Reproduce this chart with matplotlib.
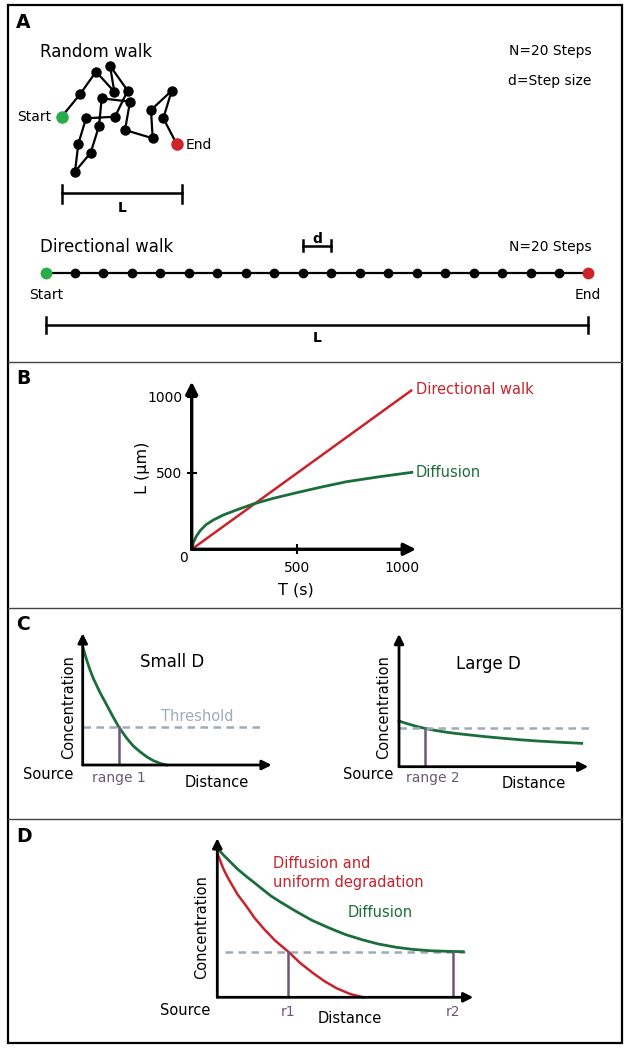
import matplotlib.pyplot as plt
from matplotlib.patches import Rectangle

W, H = 629, 1049

# --- data ---
# A: random walk path (sketch units = pixels)
rw_x = [61.7, 80, 96, 114.3, 110, 127.7, 115, 86, 78.3, 75, 90.7, 99, 101.7,
        130, 125, 152.7, 151, 171.7, 163.3, 176.7]
rw_y = [116.7, 94.3, 71.7, 91.7, 65.7, 90.7, 116.7, 118.3, 144, 171.7, 152.7,
        126, 98.3, 101.7, 130, 138.3, 110, 90.7, 118.3, 144]
# A: directional walk, step index
dw_steps = [0, 1, 2, 3, 4, 5, 6, 7, 8, 9, 10, 11, 12, 13, 14, 15, 16, 17, 18, 19]

# B: distance travelled vs time
dir_T = [0, 1045]
dir_L = [0, 1040]
diff_T = [0, 8, 21, 40, 68, 103, 151, 214, 293, 389, 500, 611, 738, 897, 1048]
diff_L = [0, 44, 83, 122, 161, 192, 225, 258, 297, 334, 371, 406, 443, 476, 504]

# C: concentration profiles (arbitrary units)
smallD_x = [0.03, 0.21, 0.39, 0.56, 0.92, 1.27, 1.62, 1.92, 2.33, 2.68, 3.03, 3.38, 3.74, 4.09, 4.44]
smallD_y = [0.886, 0.797, 0.721, 0.658, 0.549, 0.456, 0.362, 0.286, 0.203, 0.144, 0.101, 0.063, 0.033, 0.013, 0.0]
largeD_x = [0, 0.35, 0.7, 1.0, 1.37, 1.9, 2.5, 3.1, 3.75, 4.6, 5.51, 6.4, 7.27, 8.4, 9.65]
largeD_y = [0.344, 0.328, 0.313, 0.301, 0.289, 0.274, 0.26, 0.249, 0.239, 0.226, 0.214, 0.203, 0.194, 0.185, 0.176]
thr_small, range1 = 0.286, 1.92
thr_large, range2 = 0.289, 1.37

# D: diffusion vs diffusion + degradation
diffD_x = [0, 0.25, 0.5, 0.8, 1.15, 1.5, 1.8, 2.1, 2.45, 2.8, 3.1, 3.7, 4.4, 5.0, 5.7,
           6.3, 7.01, 7.6, 8.31, 9.0, 9.61]
diffD_y = [0.937, 0.893, 0.853, 0.805, 0.758, 0.714, 0.675, 0.637, 0.601, 0.567, 0.538,
           0.484, 0.434, 0.395, 0.36, 0.335, 0.314, 0.302, 0.293, 0.289, 0.287]
degr_x = [0, 0.12, 0.23, 0.36, 0.5, 0.8, 1.15, 1.45, 1.8, 2.25, 2.77, 3.25, 3.75, 4.2,
          4.66, 5.2, 5.7]
degr_y = [0.906, 0.857, 0.811, 0.768, 0.727, 0.645, 0.57, 0.5, 0.434, 0.358, 0.287,
          0.214, 0.151, 0.1, 0.057, 0.02, 0.0]
thr_D, r1, r2 = 0.287, 2.77, 9.2

# --- colours ---
RED = '#C8232C'
GREEN = '#1B6E3C'
DOT_GREEN = '#2BAA4A'
DOT_RED = '#D0242B'
THR = '#9EABB9'
PURPLE = '#6D5777'

fig = plt.figure(figsize=(W / 100, H / 100), dpi=100)

# overlay in pixel coordinates for frame, labels and panel A
ax0 = fig.add_axes([0, 0, 1, 1])
ax0.set_xlim(0, W)
ax0.set_ylim(H, 0)
ax0.axis('off')


def add_ax(left, top, right, bottom):
    a = fig.add_axes([left / W, 1 - bottom / H, (right - left) / W, (bottom - top) / H])
    a.set_facecolor('none')
    return a


def arrow_axes(ax, xmax, ymax, lw=2.2, ms=16):
    kw = dict(arrowstyle='-|>', lw=lw, color='k', shrinkA=0, shrinkB=0, mutation_scale=ms)
    ax.annotate('', xy=(xmax, 0), xytext=(0, 0), arrowprops=kw, annotation_clip=False)
    ax.annotate('', xy=(0, ymax), xytext=(0, 0), arrowprops=kw, annotation_clip=False)


# frame and panel dividers
ax0.add_patch(Rectangle((8, 5), 614, 1038, fill=False, lw=1.6, ec='k'))
for yd in [362, 608, 819]:
    ax0.plot([8, 622], [yd, yd], color='#444444', lw=1.0)
for lab, yl in zip(['A', 'B', 'C', 'D'], [22, 378, 625, 836]):
    ax0.text(16, yl, lab, fontsize=13.5, fontweight='bold', va='center', ha='left')

# ---------- A: random walk ----------
ax0.text(40, 56.7, 'Random walk', fontsize=12, va='baseline')
ax0.text(591.7, 55, 'N=20 Steps', fontsize=10, ha='right', va='baseline')
ax0.text(591.7, 84.5, 'd=Step size', fontsize=10, ha='right', va='baseline')
ax0.plot(rw_x, rw_y, color='k', lw=1.6, zorder=2)
ax0.plot(rw_x[1:-1], rw_y[1:-1], 'o', color='k', ms=6.5, zorder=3)
ax0.plot(rw_x[0], rw_y[0], 'o', color=DOT_GREEN, ms=8, zorder=3)
ax0.plot(rw_x[-1], rw_y[-1], 'o', color=DOT_RED, ms=8, zorder=3)
ax0.text(51.7, 120.7, 'Start', fontsize=10, ha='right', va='baseline')
ax0.text(186, 149.3, 'End', fontsize=10, ha='left', va='baseline')
ax0.plot([61.7, 181.7], [192.7, 192.7], color='k', lw=1.8)
for xe in [61.7, 181.7]:
    ax0.plot([xe, xe], [185, 202.7], color='k', lw=1.8)
ax0.text(121.7, 211.7, 'L', fontsize=10, fontweight='bold', ha='center', va='baseline')

# ---------- A: directional walk ----------
ax0.text(40.3, 251.7, 'Directional walk', fontsize=12, va='baseline')
ax0.text(592, 250.7, 'N=20 Steps', fontsize=10, ha='right', va='baseline')
axw = add_ax(46.4, 225, 587.5, 350)
axw.set_xlim(dw_steps[0], dw_steps[-1])
axw.set_ylim(350, 225)
axw.axis('off')
y_line = [272.7] * len(dw_steps)
axw.plot(dw_steps, y_line, color='k', lw=1.6, clip_on=False)
axw.plot(dw_steps[1:-1], y_line[1:-1], 'o', color='k', ms=6, clip_on=False)
axw.plot(dw_steps[0], y_line[0], 'o', color=DOT_GREEN, ms=7.5, clip_on=False)
axw.plot(dw_steps[-1], y_line[-1], 'o', color=DOT_RED, ms=7.5, clip_on=False)
axw.text(dw_steps[0], 299, 'Start', fontsize=10, ha='center', va='baseline')
axw.text(dw_steps[-1], 299, 'End', fontsize=10, ha='center', va='baseline')
# step size bracket
axw.plot([dw_steps[9], dw_steps[10]], [246, 246], color='k', lw=1.8, clip_on=False)
for s in [dw_steps[9], dw_steps[10]]:
    axw.plot([s, s], [240.5, 251], color='k', lw=1.8, clip_on=False)
axw.text((dw_steps[9] + dw_steps[10]) / 2, 243, 'd', fontsize=10, fontweight='bold',
         ha='center', va='baseline')
# L bar
axw.plot([dw_steps[0], dw_steps[-1]], [325, 325], color='k', lw=1.8, clip_on=False)
for s in [dw_steps[0], dw_steps[-1]]:
    axw.plot([s, s], [317, 333.3], color='k', lw=1.8, clip_on=False)
axw.text((dw_steps[0] + dw_steps[-1]) / 2, 341.7, 'L', fontsize=10, fontweight='bold',
         ha='center', va='baseline')

# ---------- B ----------
axB = add_ax(191.7, 381.7, 416, 549.3)
axB.set_xlim(0, 1068)
axB.set_ylim(0, 1098)
for sp in axB.spines.values():
    sp.set_visible(False)
axB.set_xticks([500, 1000])
axB.set_yticks([500, 1000])
axB.tick_params(direction='inout', length=7, width=1.5, labelsize=10, pad=3)
axB.tick_params(axis='x', pad=5)
arrow_axes(axB, 1068, 1098, lw=2.4, ms=18)
axB.plot(dir_T, dir_L, color=RED, lw=1.8, clip_on=False)
axB.plot(diff_T, diff_L, color=GREEN, lw=2.0, clip_on=False)
ax0.text(183, 557.5, '0', fontsize=10, ha='center', va='center')
ax0.text(295.7, 590, 'T (s)', fontsize=11.5, ha='center', va='center')
ax0.text(143, 468, 'L (\u03bcm)', fontsize=11.5, ha='center', va='center', rotation=90)
ax0.text(416, 390, 'Directional walk', fontsize=10.5, color=RED, va='center')
ax0.text(416, 472.3, 'Diffusion', fontsize=10.5, color=GREEN, va='center')

# ---------- C ----------
axC1 = add_ax(82.7, 633.3, 271.7, 765)
axC2 = add_ax(399, 634, 588.3, 766.7)
for a in (axC1, axC2):
    a.set_xlim(0, 10)
    a.set_ylim(0, 1)
    a.axis('off')
    arrow_axes(a, 10, 1, lw=2.0, ms=14)
axC1.plot(smallD_x, smallD_y, color=GREEN, lw=2.0, clip_on=False)
axC1.plot([0, 9.65], [thr_small, thr_small], color=THR, lw=1.8, ls=(0, (3, 2.2)), clip_on=False)
axC1.plot([range1, range1], [0, thr_small], color=PURPLE, lw=1.8)
axC2.plot(largeD_x, largeD_y, color=GREEN, lw=2.0, clip_on=False)
axC2.plot([0, 10.2], [thr_large, thr_large], color=THR, lw=1.8, ls=(0, (3, 2.2)), clip_on=False)
axC2.plot([range2, range2], [0, thr_large], color=PURPLE, lw=1.8)

ax0.text(171.7, 666.7, 'Small D', fontsize=12, ha='center', va='baseline')
ax0.text(197.3, 721, 'Threshold', fontsize=10.5, color=THR, ha='center', va='baseline')
ax0.text(68.3, 706.7, 'Concentration', fontsize=10.5, rotation=90, ha='center', va='center')
ax0.text(48.3, 779.3, 'Source', fontsize=10.5, ha='center', va='baseline')
ax0.text(119.3, 782, 'range 1', fontsize=10, color=PURPLE, ha='center', va='baseline')
ax0.text(216.7, 786.7, 'Distance', fontsize=10.5, ha='center', va='baseline')

ax0.text(488.3, 669.3, 'Large D', fontsize=12, ha='center', va='baseline')
ax0.text(384, 706.7, 'Concentration', fontsize=10.5, rotation=90, ha='center', va='center')
ax0.text(367.7, 779.3, 'Source', fontsize=10.5, ha='center', va='baseline')
ax0.text(432.7, 782, 'range 2', fontsize=10, color=PURPLE, ha='center', va='baseline')
ax0.text(533.3, 787.7, 'Distance', fontsize=10.5, ha='center', va='baseline')

# ---------- D ----------
axD = add_ax(217.3, 838.3, 473.3, 997.3)
axD.set_xlim(0, 10)
axD.set_ylim(0, 1)
axD.axis('off')
arrow_axes(axD, 10, 1, lw=2.0, ms=14)
axD.plot([0.3, 9.68], [thr_D, thr_D], color=THR, lw=1.8, ls=(0, (3, 2.2)), clip_on=False)
axD.plot(diffD_x, diffD_y, color=GREEN, lw=2.0, clip_on=False)
axD.plot(degr_x, degr_y, color=RED, lw=1.8, clip_on=False)
for r in (r1, r2):
    axD.plot([r, r], [0, thr_D], color=PURPLE, lw=1.8)

ax0.text(272.7, 868.3, 'Diffusion and', fontsize=10.5, color=RED, va='baseline')
ax0.text(272.7, 886.5, 'uniform degradation', fontsize=10.5, color=RED, va='baseline')
ax0.text(347.3, 917.3, 'Diffusion', fontsize=10.5, color=GREEN, va='baseline')
ax0.text(201.7, 926.7, 'Concentration', fontsize=10.5, rotation=90, ha='center', va='center')
ax0.text(185, 1015, 'Source', fontsize=10.5, ha='center', va='baseline')
ax0.text(288.3, 1015.7, 'r1', fontsize=10, color=PURPLE, ha='center', va='baseline')
ax0.text(350, 1022.7, 'Distance', fontsize=10.5, ha='center', va='baseline')
ax0.text(452.7, 1015.7, 'r2', fontsize=10, color=PURPLE, ha='center', va='baseline')

fig.savefig('out.png', dpi=100)
